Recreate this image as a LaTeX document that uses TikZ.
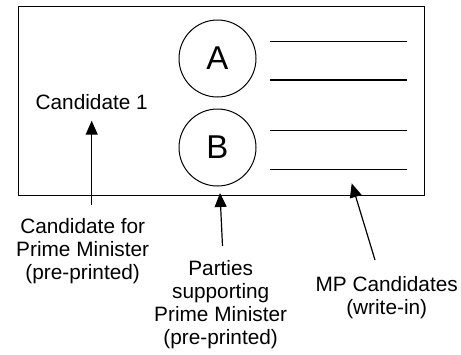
\documentclass[tikz,border=0pt]{standalone}
\usepackage{fontspec}
\setmainfont{Liberation Sans}
\usetikzlibrary{arrows.meta}
\begin{document}
\begin{tikzpicture}[x=1pt,y=-1pt,
  label/.style={font=\fontsize{20.8}{23}\selectfont, align=center, inner sep=0pt},
  party/.style={draw, circle, line width=1pt, minimum size=77pt, inner sep=0pt,
                font=\fontsize{33}{36}\selectfont},
  writein/.style={line width=1.2pt},
  pointer/.style={line width=1.2pt, -{Triangle[width=12pt,length=14pt]}}]
  \useasboundingbox (0,0) rectangle (461,354);
  % ballot outline
  \node[draw, line width=1.3pt, minimum width=406pt, minimum height=189pt,
        inner sep=0pt, anchor=north west] (ballot) at (18,6) {};
  % party circles
  \node[party] (A) at (217.5,58.5) {A};
  \node[party] (B) at (217.5,147.5) {B};
  % write-in lines
  \coordinate (l1a) at (270,41.7);  \coordinate (l1b) at (407,41.7);
  \coordinate (l2a) at (270,80);    \coordinate (l2b) at (407,80);
  \coordinate (l3a) at (270,130.7); \coordinate (l3b) at (407,130.7);
  \coordinate (l4a) at (270,169.3); \coordinate (l4b) at (407,169.3);
  \draw[writein] (l1a) -- (l1b);
  \draw[writein] (l2a) -- (l2b);
  \draw[writein] (l3a) -- (l3b);
  \draw[writein] (l4a) -- (l4b);
  % labels
  \node[label] (cand1) at (91.7,101.7) {Candidate 1};
  \node[label] (pm) at (82.7,251.5) {Candidate for\\Prime Minister\\(pre-printed)};
  \node[label] (parties) at (220.7,305) {Parties\\supporting\\Prime Minister\\(pre-printed)};
  \node[label] (mp) at (386.7,297.5) {MP Candidates\\(write-in)};
  % arrows
  \coordinate (p1s) at (91.7,205);  \coordinate (p1e) at (91.7,120.7);
  \coordinate (p2s) at (222.5,246); \coordinate (p2e) at (220,193);
  \coordinate (p3s) at (375,260);   \coordinate (p3e) at (351.7,183.3);
  \draw[pointer] (p1s) -- (p1e);
  \draw[pointer] (p2s) -- (p2e);
  \draw[pointer] (p3s) -- (p3e);
\end{tikzpicture}
\end{document}
